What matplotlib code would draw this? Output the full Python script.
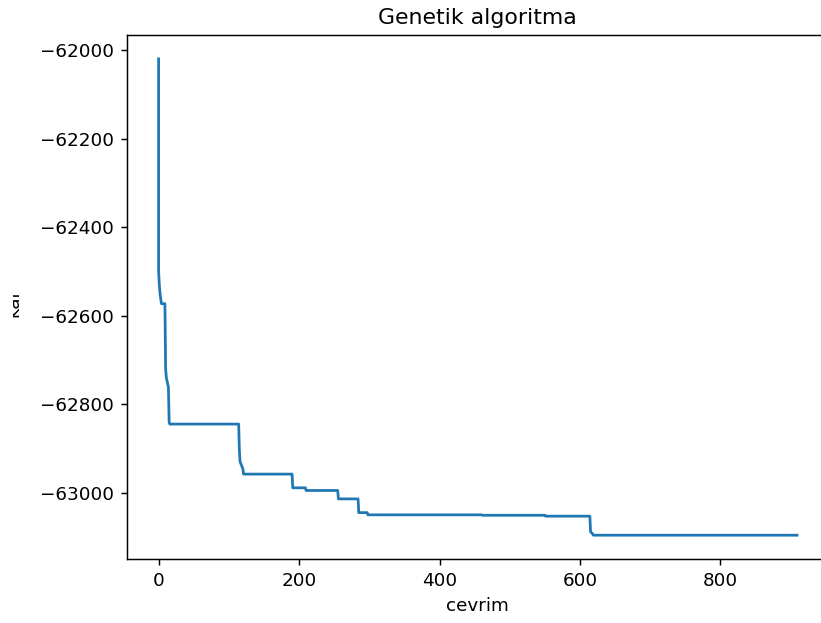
import matplotlib
matplotlib.use("Agg")
import matplotlib.pyplot as plt
from matplotlib.transforms import Bbox

# vertices of the best-so-far curve (iteration, value)
cevrim = [0, 0, 1, 2, 4, 9, 10, 11, 14, 15, 16, 114, 115, 116, 120, 121,
          190, 191, 209, 210, 255, 256, 284, 285, 297, 298, 310,
          460, 461, 550, 551, 614, 615, 616, 618, 619, 909]
kar = [-62020, -62500, -62530, -62550, -62573, -62573, -62720, -62740, -62762, -62841, -62845,
       -62845, -62905, -62930, -62946, -62958,
       -62958, -62989, -62989, -62995, -62995, -63014, -63014, -63045, -63045, -63050, -63050,
       -63050, -63051, -63051, -63053, -63053, -63088, -63090, -63093, -63096, -63096]

DPI = 132
fig = plt.figure(figsize=(821 / DPI, 623 / DPI), dpi=DPI)
ax = fig.add_axes([0.1543, 0.1027, 0.8554, 0.8411])
ax.plot(cevrim, kar, color="#1f77b4", linewidth=1.5)
ax.set_title("Genetik algoritma")
ax.set_xlabel("cevrim")
ylab = ax.set_ylabel("kar")
ax.yaxis.set_label_coords(-0.1485, 0.49)
ax.set_xticks([0, 200, 400, 600, 800])
ax.set_yticks([-63000, -62800, -62600, -62400, -62200, -62000])
# the reference shows the y label partly cut off at its left side
ylab.set_clip_on(True)
ylab.set_clip_box(Bbox.from_extents(12.5, 0, 821, 623))
fig.savefig("out.png", dpi=DPI)
